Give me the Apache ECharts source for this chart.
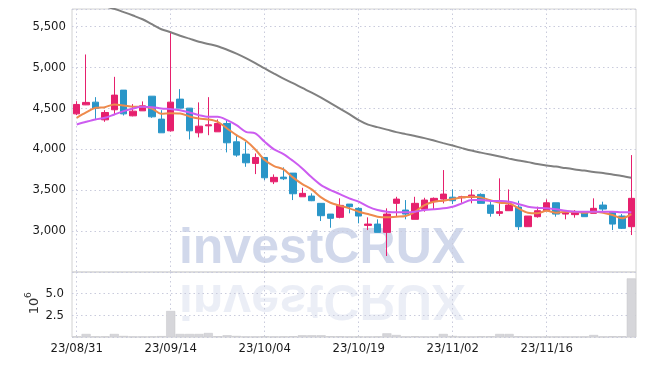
<!DOCTYPE html>
<html><head><meta charset="utf-8">
<script src="https://cdn.jsdelivr.net/npm/echarts@6/dist/echarts.min.js"></script>
<style>html,body{margin:0;padding:0;background:#fff}#c{width:645px;height:366px}</style>
</head><body><div id="c"></div>
<script>
const dates = ['23/08/31','23/09/01','23/09/04','23/09/05','23/09/06','23/09/07','23/09/08','23/09/11','23/09/12','23/09/13',
'23/09/14','23/09/15','23/09/18','23/09/19','23/09/20','23/09/21','23/09/22','23/09/25','23/09/26','23/09/27',
'23/10/04','23/10/05','23/10/06','23/10/10','23/10/11','23/10/12','23/10/13','23/10/16','23/10/17','23/10/18',
'23/10/19','23/10/20','23/10/23','23/10/24','23/10/25','23/10/26','23/10/27','23/10/30','23/10/31','23/11/01',
'23/11/02','23/11/03','23/11/06','23/11/07','23/11/08','23/11/09','23/11/10','23/11/13','23/11/14','23/11/15',
'23/11/16','23/11/17','23/11/20','23/11/21','23/11/22','23/11/23','23/11/24','23/11/27','23/11/28','23/11/29'];
const opens  = [4430,4540,4573,4357,4480,4720,4406,4467,4646,4366,4223,4610,4500,4199,4284,4211,4313,4089,3939,3825,
3898,3601,3658,3707,3418,3427,3338,3207,3167,3329,3277,3069,3085,2984,3338,3256,3143,3265,3358,3390,
3413,3406,3411,3447,3317,3216,3248,3293,3053,3175,3248,3345,3207,3200,3224,3216,3317,3236,3183,3053];
const closes = [4545,4570,4496,4447,4659,4430,4463,4528,4394,4199,4573,4500,4223,4280,4296,4313,4077,3927,3833,3898,
3650,3655,3638,3455,3460,3370,3187,3155,3313,3297,3183,3085,2984,3207,3390,3207,3338,3378,3399,3451,
3370,3418,3439,3338,3216,3236,3317,3053,3183,3248,3345,3207,3224,3224,3175,3277,3268,3085,3033,3399];
const lows   = [4415,4537,4362,4333,4415,4410,4400,4467,4382,4199,4215,4500,4118,4143,4170,4211,3960,3906,3784,3695,
3622,3573,3622,3378,3418,3365,3122,3040,3155,3216,3094,3012,2984,2695,3183,3143,3143,3236,3265,3338,
3329,3345,3338,3338,3175,3183,3248,3012,3053,3163,3248,3175,3143,3163,3175,3216,3240,3012,3025,2951];
const highs  = [4585,5155,4634,4475,4882,4720,4549,4582,4646,4475,5430,4732,4500,4570,4634,4362,4362,4159,4089,3947,
3898,3691,3777,3707,3528,3460,3338,3207,3399,3329,3290,3167,3143,3277,3418,3378,3418,3406,3410,3744,
3508,3430,3508,3460,3378,3643,3508,3370,3183,3297,3386,3345,3256,3256,3224,3399,3358,3236,3207,3927];
const maShort = [4382,4447,4504,4512,4545,4533,4516,4516,4496,4431,4439,4435,4399,4374,4362,4333,4252,4170,4101,3996,
3866,3793,3752,3655,3573,3508,3411,3345,3309,3277,3236,3207,3175,3167,3175,3183,3236,3317,3358,3370,
3390,3411,3418,3411,3375,3345,3338,3277,3224,3216,3248,3224,3236,3236,3224,3236,3224,3195,3155,3207];
const maMid = [4301,4333,4362,4382,4423,4463,4496,4516,4512,4496,4488,4475,4447,4415,4394,4394,4354,4293,4211,4191,
4089,3996,3939,3857,3764,3655,3561,3500,3451,3399,3358,3297,3256,3236,3228,3228,3236,3256,3265,3277,
3297,3338,3378,3378,3368,3366,3358,3329,3297,3284,3277,3265,3248,3236,3236,3236,3236,3236,3228,3228];
const maLong = [5860,5820,5780,5745,5712,5672,5630,5585,5524,5463,5427,5384,5348,5311,5284,5256,5213,5165,5110,5049,
4984,4921,4860,4805,4746,4689,4628,4561,4494,4427,4354,4299,4268,4238,4207,4183,4159,4134,4104,4073,
4043,4012,3982,3957,3933,3909,3884,3860,3841,3817,3801,3787,3768,3752,3738,3720,3707,3689,3671,3650];
const volumes = [0.05,0.35,0.05,0.05,0.35,0.12,0.03,0.03,0.05,0.1,3.0,0.35,0.35,0.35,0.46,0.08,0.2,0.12,0.03,0.03,
0.08,0.03,0.05,0.08,0.2,0.2,0.2,0.08,0.08,0.03,0.05,0.03,0.05,0.42,0.23,0.03,0.08,0.03,0.05,0.35,
0.12,0.03,0.03,0.08,0.08,0.35,0.35,0.08,0.03,0.03,0.03,0.03,0.03,0.03,0.03,0.23,0.03,0.08,0.08,6.76];

const ohlc = dates.map((d,i)=>[opens[i],closes[i],lows[i],highs[i]]);
const FONT = '"DejaVu Sans Condensed", "DejaVu Sans", sans-serif';
const gridLine = {show:true, interval:9, alignWithLabel:true, lineStyle:{color:'#c9cbdc', type:[1.5,3], width:1}};
const hLine = {show:true, lineStyle:{color:'#c9cbdc', type:[1.5,3], width:1}};

const chart = echarts.init(document.getElementById('c'), null, {renderer:'canvas'});
chart.setOption({
  animation:false,
  backgroundColor:'#fff',
  grid:[
    {left:72, right:9, top:9, height:263, show:true, borderColor:'#d2d2d2', borderWidth:1},
    {left:72, right:9, top:272, height:65, show:true, borderColor:'#d2d2d2', borderWidth:1}
  ],
  xAxis:[
    {type:'category', data:dates, gridIndex:0, boundaryGap:true,
     axisLine:{show:false}, axisTick:{show:false}, axisLabel:{show:false}, splitLine:gridLine},
    {type:'category', data:dates, gridIndex:1, boundaryGap:true,
     axisLine:{show:false}, axisTick:{show:false},
     axisLabel:{interval:9, color:'#1a1a1a', fontFamily:FONT, fontSize:13, margin:5},
     splitLine:gridLine}
  ],
  yAxis:[
    {type:'value', gridIndex:0, min:2500, max:5710, interval:500,
     axisLine:{show:false}, axisTick:{show:false},
     axisLabel:{showMinLabel:false, showMaxLabel:false, color:'#1a1a1a', fontFamily:FONT, fontSize:13, margin:6,
       formatter:v=>String(v).replace(/\B(?=(\d{3})+(?!\d))/g, ',')},
     splitLine:hLine},
    {type:'value', gridIndex:1, min:0, max:7.5, interval:2.5,
     axisLine:{show:false}, axisTick:{show:false},
     axisLabel:{showMinLabel:false, showMaxLabel:false, color:'#1a1a1a', fontFamily:FONT, fontSize:13, margin:8,
       formatter:v=>v.toFixed(1)},
     splitLine:hLine}
  ],
  graphic:[
    {type:'group', x:322, y:274, z:1, silent:true, children:[
      {type:'text', x:0, y:0, style:{text:'investCRUX', font:'bold 50px "Liberation Sans"', fill:'rgba(178,190,222,0.6)', align:'center', verticalAlign:'bottom'}},
      {type:'text', x:0, y:0, scaleY:-1, style:{text:'investCRUX', font:'bold 50px "Liberation Sans"', fill:'rgba(190,198,224,0.3)', align:'center', verticalAlign:'bottom'}}
    ]},
    {type:'group', x:35, y:306, rotation:Math.PI/2, children:[
      {type:'text', x:0, y:0, style:{text:'10', font:'13px "DejaVu Sans"', fill:'#333', align:'center', verticalAlign:'middle'}},
      {type:'text', x:8, y:-6, style:{text:'6', font:'9px "DejaVu Sans"', fill:'#333', align:'left', verticalAlign:'middle'}}
    ]}
  ],
  series:[
    {type:'candlestick', xAxisIndex:0, yAxisIndex:0, data:ohlc, barWidth:7, z:3,
     itemStyle:{color:'#e6206d', color0:'#2a96c8', borderColor:'#e6206d', borderColor0:'#2a96c8', borderWidth:1}},
    {type:'line', xAxisIndex:0, yAxisIndex:0, data:maShort, smooth:0.3, symbol:'none', z:4,
     lineStyle:{color:'#ee8a4c', width:2}},
    {type:'line', xAxisIndex:0, yAxisIndex:0, data:maMid, smooth:0.3, symbol:'none', z:4,
     lineStyle:{color:'#cc5cf0', width:2}},
    {type:'line', xAxisIndex:0, yAxisIndex:0, data:maLong, smooth:0.3, symbol:'none', z:4,
     lineStyle:{color:'#808080', width:2}},
    {type:'bar', xAxisIndex:1, yAxisIndex:1, data:volumes, barCategoryGap:'4%', z:3,
     itemStyle:{color:'#d6d6da', borderColor:'#c4c4c8', borderWidth:0.5}}
  ]
});
</script></body></html>
